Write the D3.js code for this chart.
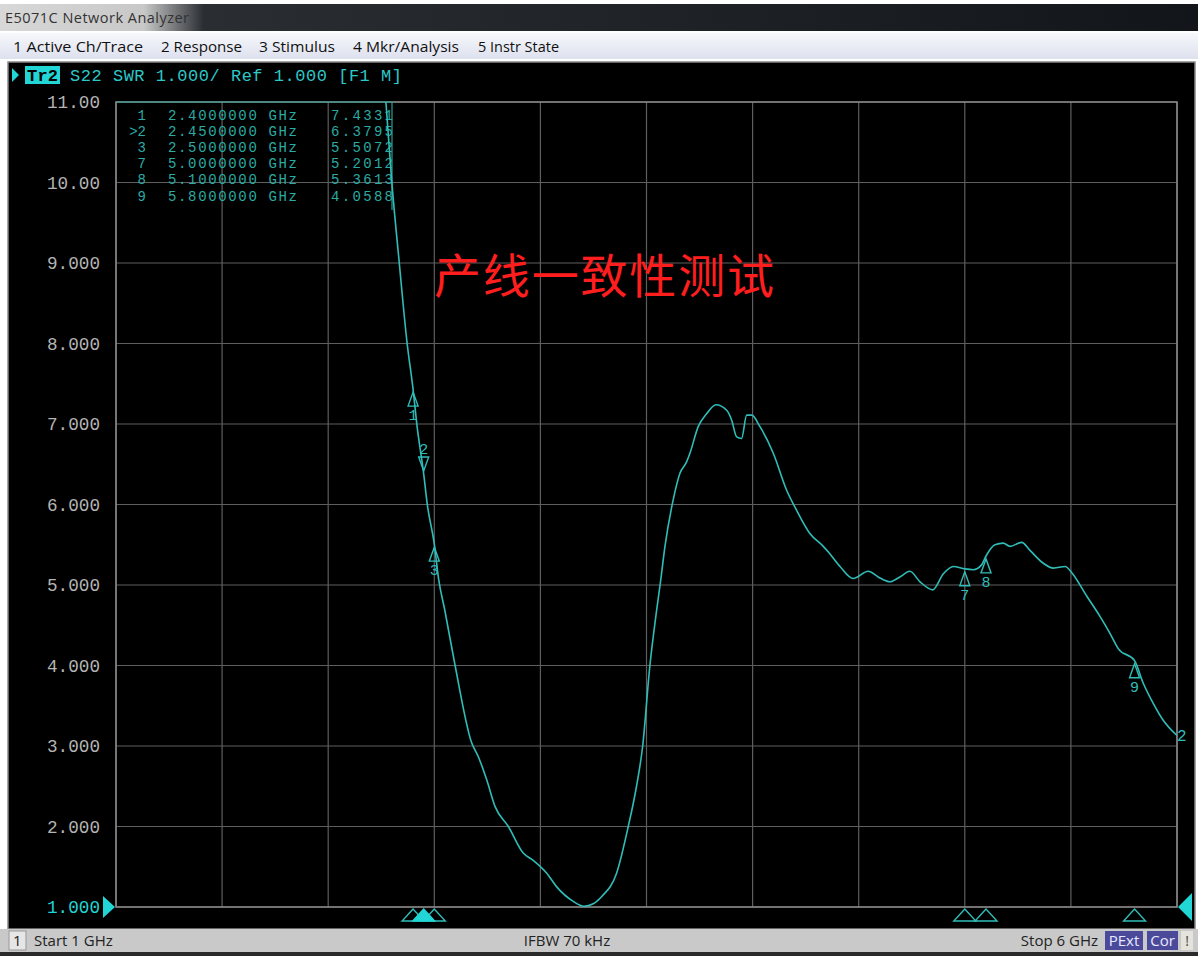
<!DOCTYPE html>
<html>
<head>
<meta charset="utf-8">
<script src="https://cdn.jsdelivr.net/npm/d3@7"></script>
<style>
  html, body { margin: 0; padding: 0; background: #fff; }
  svg { display: block; }
</style>
</head>
<body>
<div id="screen"></div>
<script>
// --- data ---
const freqGHz = [2.20, 2.272, 2.299, 2.335, 2.372, 2.400, 2.417, 2.450, 2.467, 2.500, 2.520, 2.550,
  2.598, 2.676, 2.707, 2.747, 2.786, 2.849, 2.919, 2.966, 3.030, 3.077, 3.155, 3.205, 3.249, 3.289,
  3.359, 3.414, 3.453, 3.482, 3.516, 3.548, 3.567, 3.587, 3.626, 3.658, 3.689, 3.705, 3.744, 3.784,
  3.827, 3.878, 3.901, 3.925, 3.948, 3.972, 3.996, 4.034, 4.097, 4.160, 4.207, 4.270, 4.333, 4.357,
  4.412, 4.474, 4.545, 4.592, 4.647, 4.694, 4.741, 4.789, 4.849, 4.899, 4.946, 5.000, 5.040, 5.079,
  5.100, 5.142, 5.181, 5.213, 5.268, 5.307, 5.370, 5.418, 5.473, 5.505, 5.575, 5.637, 5.684, 5.723,
  5.800, 5.841, 5.888, 5.935, 6.000];
const swr = [13.6, 11.0, 10.03, 9.0, 8.0, 7.43, 7.01, 6.38, 6.0, 5.51, 5.08, 4.68,
  4.0, 3.04, 2.87, 2.58, 2.25, 2.0, 1.67, 1.58, 1.42, 1.25, 1.07, 1.01, 1.04, 1.13,
  1.42, 2.0, 2.5, 3.0, 4.0, 4.69, 5.06, 5.48, 6.06, 6.39, 6.53, 6.64, 6.97, 7.13,
  7.24, 7.17, 7.05, 6.84, 6.82, 7.11, 7.11, 6.97, 6.64, 6.18, 5.93, 5.64, 5.48, 5.41,
  5.23, 5.08, 5.17, 5.10, 5.04, 5.10, 5.17, 5.04, 4.94, 5.14, 5.23, 5.20, 5.19, 5.25,
  5.36, 5.50, 5.52, 5.48, 5.53, 5.43, 5.27, 5.21, 5.23, 5.15, 4.86, 4.61, 4.40, 4.21,
  4.06, 3.78, 3.53, 3.32, 3.13];

const markerIds = ["1", "2", "3", "7", "8", "9"];
const markerFreq = [2.40, 2.45, 2.50, 5.00, 5.10, 5.80];
const markerVal = [7.4331, 6.3795, 5.5072, 5.2012, 5.3613, 4.0588];
const activeMarker = "2";

const yTickValues = [11, 10, 9, 8, 7, 6, 5, 4, 3, 2, 1];
const yTickLabels = ["11.00", "10.00", "9.000", "8.000", "7.000", "6.000", "5.000", "4.000", "3.000", "2.000", "1.000"];

const menuItems = ["1 Active Ch/Trace", "2 Response", "3 Stimulus", "4 Mkr/Analysis", "5 Instr State"];
const menuX = [13, 161, 259, 353, 478];
const menuW = [130, 81, 76, 106, 81];

// --- layout ---
const W = 1198, H = 956;
const plot = { left: 116, right: 1177, top: 102, bottom: 907 };
const traceColor = "#30bdb8";
const cyan = "#22d6d6";
const mono = "'Liberation Mono', 'DejaVu Sans Mono', monospace";
const uiFont = "'Open Sans', 'Noto Sans', sans-serif";

const svg = d3.select("#screen").append("svg")
  .attr("width", W).attr("height", H)
  .attr("viewBox", `0 0 ${W} ${H}`);

const defs = svg.append("defs");
const tg = defs.append("linearGradient").attr("id", "titleGrad").attr("x1", 0).attr("x2", 1);
tg.append("stop").attr("offset", "0%").attr("stop-color", "#d8d8d8");
tg.append("stop").attr("offset", "12%").attr("stop-color", "#c8c8c8");
tg.append("stop").attr("offset", "17%").attr("stop-color", "#2a2e33");
tg.append("stop").attr("offset", "100%").attr("stop-color", "#12161b");
const mg = defs.append("linearGradient").attr("id", "menuGrad").attr("x1", 0).attr("x2", 0).attr("y1", 0).attr("y2", 1);
mg.append("stop").attr("offset", "0%").attr("stop-color", "#f7f8fc");
mg.append("stop").attr("offset", "100%").attr("stop-color", "#dde1ee");
defs.append("clipPath").attr("id", "plotClip").append("rect")
  .attr("x", plot.left).attr("y", plot.top)
  .attr("width", plot.right - plot.left).attr("height", plot.bottom - plot.top);

// window title bar
svg.append("rect").attr("x", 0).attr("y", 4).attr("width", W).attr("height", 27).attr("fill", "url(#titleGrad)");
svg.append("text").attr("x", 5).attr("y", 23)
  .attr("font-family", uiFont).attr("font-size", 14.5)
  .attr("fill", "#333").attr("textLength", 184).text("E5071C Network Analyzer");

// menu bar
svg.append("rect").attr("x", 0).attr("y", 33).attr("width", W).attr("height", 26).attr("fill", "url(#menuGrad)");
svg.selectAll(".menu").data(menuItems).join("text")
  .attr("class", "menu")
  .attr("x", (d, i) => menuX[i]).attr("y", 52)
  .attr("font-family", uiFont).attr("font-size", 15)
  .attr("textLength", (d, i) => menuW[i]).attr("lengthAdjust", "spacingAndGlyphs")
  .attr("fill", "#111").text(d => d);

// instrument screen
svg.append("rect").attr("x", 8).attr("y", 62).attr("width", 1187).attr("height", 867)
  .attr("fill", "#000").attr("stroke", "#888").attr("stroke-width", 1.5);

// header line
svg.append("path").attr("d", "M12,68 L19,75 L12,82 Z").attr("fill", cyan);
svg.append("rect").attr("x", 25).attr("y", 66).attr("width", 35).attr("height", 18).attr("fill", cyan);
svg.append("text").attr("x", 27).attr("y", 81).attr("font-family", mono).attr("font-size", 17)
  .attr("font-weight", "bold").attr("fill", "#000").attr("textLength", 31).text("Tr2");
svg.append("text").attr("x", 70).attr("y", 81).attr("font-family", mono).attr("font-size", 17)
  .attr("fill", "#2cc8c8").attr("textLength", 332).text("S22 SWR 1.000/ Ref 1.000 [F1 M]");

// scales
const x = d3.scaleLinear().domain([1, 6]).range([plot.left, plot.right]);
const y = d3.scaleLinear().domain([1, 11]).range([plot.bottom, plot.top]);

// grid
const grid = svg.append("g").attr("stroke", "#5e5e5e").attr("stroke-width", 1.2);
grid.selectAll(".vg").data(d3.range(1, 6.01, 0.5)).join("line")
  .attr("x1", d => x(d)).attr("x2", d => x(d))
  .attr("y1", plot.top).attr("y2", plot.bottom);
grid.selectAll(".hg").data(yTickValues).join("line")
  .attr("x1", plot.left).attr("x2", plot.right)
  .attr("y1", d => y(d)).attr("y2", d => y(d));
svg.append("rect").attr("x", plot.left).attr("y", plot.top)
  .attr("width", plot.right - plot.left).attr("height", plot.bottom - plot.top)
  .attr("fill", "none").attr("stroke", "#8a8a8a").attr("stroke-width", 1.5);

// y axis labels
const yAxis = svg.append("g").attr("transform", "translate(100,0)")
  .call(d3.axisLeft(y).tickValues(yTickValues).tickSize(0).tickPadding(0)
    .tickFormat((d, i) => yTickLabels[i]));
yAxis.select(".domain").remove();
yAxis.selectAll("text")
  .attr("font-family", mono).attr("font-size", 17.5)
  .attr("textLength", 53).attr("lengthAdjust", "spacingAndGlyphs")
  .attr("fill", d => d === 1 ? cyan : "#b4b4b4");

// reference pointers
svg.append("path").attr("d", `M103,${y(1) - 11} L115,${y(1)} L103,${y(1) + 11} Z`).attr("fill", cyan);
svg.append("path").attr("d", `M1192,${y(1) - 14} L1178,${y(1)} L1192,${y(1) + 14} Z`).attr("fill", cyan);

// marker table
const table = svg.append("g");
table.append("path")
  .attr("d", `M${plot.left},${plot.top} H392 V210`)
  .attr("fill", "none").attr("stroke", "#2c9c94").attr("stroke-width", 1.2);
const rowY = i => 120 + i * 16.1;
const tableColor = "#2aaba3";
const tSize = 14;
table.selectAll(".mid").data(markerIds).join("text")
  .attr("x", 146).attr("y", (d, i) => rowY(i)).attr("text-anchor", "end")
  .attr("font-family", mono).attr("font-size", tSize).attr("fill", tableColor)
  .text(d => (d === activeMarker ? ">" : "") + d);
table.selectAll(".mf").data(markerFreq).join("text")
  .attr("x", 168).attr("y", (d, i) => rowY(i))
  .attr("font-family", mono).attr("font-size", tSize).attr("fill", tableColor)
  .attr("textLength", 129).text(d => d.toFixed(7) + " GHz");
table.selectAll(".mv").data(markerVal).join("text")
  .attr("x", 331).attr("y", (d, i) => rowY(i))
  .attr("font-family", mono).attr("font-size", tSize).attr("fill", tableColor)
  .attr("textLength", 62).text(d => d.toFixed(4));

// red annotation
svg.append("text").attr("x", 434).attr("y", 293)
  .attr("font-family", "'Noto Sans CJK SC', sans-serif").attr("font-size", 47)
  .attr("textLength", 340)
  .attr("fill", "#ff1e1e").text("产线一致性测试");

// trace
const pts = freqGHz.map((f, i) => [f, swr[i]]);
svg.append("path").datum(pts)
  .attr("clip-path", "url(#plotClip)")
  .attr("fill", "none").attr("stroke", traceColor).attr("stroke-width", 1.6)
  .attr("d", d3.line().x(d => x(d[0])).y(d => y(d[1])).curve(d3.curveMonotoneX));
svg.append("text").attr("x", 1177).attr("y", 741)
  .attr("font-family", mono).attr("font-size", 16).attr("fill", traceColor).text("2");

// markers on the trace
const mk = svg.append("g").attr("fill", "none").attr("stroke", traceColor).attr("stroke-width", 1.4);
markerIds.forEach((id, i) => {
  const mx = x(markerFreq[i]), my = y(markerVal[i]);
  const up = id !== activeMarker;
  mk.append("path").attr("d", up
    ? `M${mx},${my + 3} L${mx - 5},${my + 17} L${mx + 5},${my + 17} Z`
    : `M${mx},${my - 3} L${mx - 5},${my - 17} L${mx + 5},${my - 17} Z`);
  svg.append("text").attr("x", mx).attr("y", up ? my + 31 : my - 20).attr("text-anchor", "middle")
    .attr("font-family", mono).attr("font-size", 15).attr("fill", traceColor).text(id);
});

// stimulus-axis marker triangles
const bm = svg.append("g");
markerIds.map((id, i) => ({ id, f: markerFreq[i] }))
  .sort((a, b) => (a.id === activeMarker) - (b.id === activeMarker))
  .forEach(m => {
    const mx = x(m.f);
    bm.append("path")
      .attr("d", `M${mx},909 L${mx - 11},921 L${mx + 11},921 Z`)
      .attr("fill", m.id === activeMarker ? cyan : "#000")
      .attr("stroke", m.id === activeMarker ? cyan : traceColor).attr("stroke-width", 1.4);
  });

// status bar
svg.append("rect").attr("x", 0).attr("y", 929).attr("width", W).attr("height", 23).attr("fill", "#c9c9c9");
svg.append("rect").attr("x", 0).attr("y", 952).attr("width", W).attr("height", 4).attr("fill", "#2a2a2a");
svg.append("rect").attr("x", 9).attr("y", 931).attr("width", 17).attr("height", 19)
  .attr("fill", "#e6e6e6").attr("stroke", "#999");
svg.append("text").attr("x", 13).attr("y", 946).attr("font-family", uiFont).attr("font-size", 15).attr("fill", "#222").text("1");
svg.append("text").attr("x", 34).attr("y", 946).attr("font-family", uiFont).attr("font-size", 15).attr("fill", "#222").text("Start 1 GHz");
svg.append("text").attr("x", 567).attr("y", 946).attr("text-anchor", "middle").attr("font-family", uiFont).attr("font-size", 15).attr("fill", "#222").text("IFBW 70 kHz");
svg.append("text").attr("x", 1098).attr("y", 946).attr("text-anchor", "end").attr("font-family", uiFont).attr("font-size", 15).attr("fill", "#222").text("Stop 6 GHz");
[["PExt", 1105, 38], ["Cor", 1147, 31]].forEach(([t, bx, bw]) => {
  svg.append("rect").attr("x", bx).attr("y", 931).attr("width", bw).attr("height", 19).attr("fill", "#4b4a9a");
  svg.append("text").attr("x", bx + bw / 2).attr("y", 946).attr("text-anchor", "middle")
    .attr("font-family", uiFont).attr("font-size", 15).attr("fill", "#e8e8ff").text(t);
});
svg.append("rect").attr("x", 1181).attr("y", 931).attr("width", 12).attr("height", 19).attr("fill", "#e4e4dc");
svg.append("text").attr("x", 1187).attr("y", 946).attr("text-anchor", "middle")
  .attr("font-family", uiFont).attr("font-size", 14).attr("fill", "#444").text("!");
</script>
</body>
</html>
